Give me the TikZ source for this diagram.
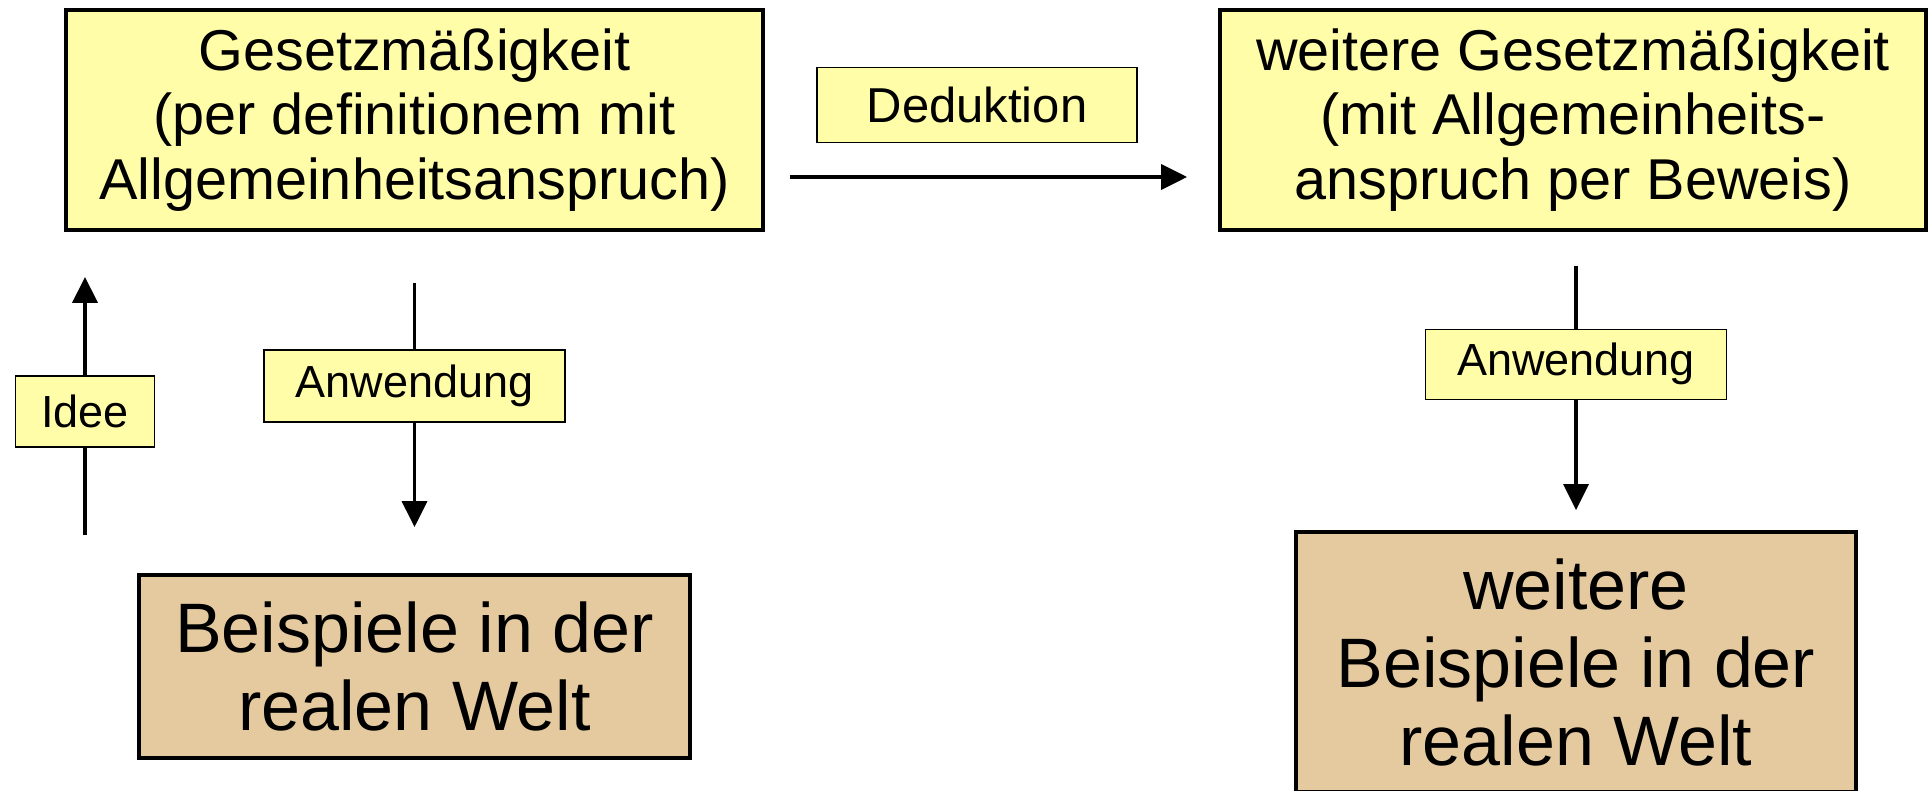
\documentclass[tikz,border=0pt]{standalone}
\usepackage{fontspec}
\setmainfont{Liberation Sans}
\usepackage{tikz}
\usetikzlibrary{arrows.meta}
\definecolor{gelb}{HTML}{FFFDA8}
\definecolor{braun}{HTML}{E5CA9F}
\tikzstyle{arrow} = [-{Triangle[length=13pt,width=12.5pt]}, line width=1.7pt]
\tikzstyle{gesetz} = [draw, line width=1.9pt, fill=gelb, align=center, minimum height=110pt, font=\fontsize{28.8}{32.3}\selectfont]
\tikzstyle{welt} = [draw, line width=1.9pt, fill=braun, align=center, font=\fontsize{35}{39}\selectfont]
\tikzstyle{lbl} = [draw, line width=0.75pt, fill=gelb, minimum height=36pt, font=\fontsize{22.5}{25}\selectfont]

\begin{document}
\begin{tikzpicture}[x=0.5pt, y=-0.5pt]
        \useasboundingbox (0,0) rectangle (1930,791);
        \node[gesetz, minimum width=348.5pt] at (414.5,120) (g1) {Gesetzmäßigkeit\\(per definitionem mit\\Allgemeinheitsanspruch)};
        \node[gesetz, minimum width=353pt] at (1573,120) (g2) {weitere Gesetzmäßigkeit\\(mit Allgemeinheits-\\anspruch per Beweis)};
        \node[welt, minimum width=275.5pt, minimum height=91.5pt] at (414.5,666.5) (b1) {Beispiele in der\\realen Welt};
        \node[welt, minimum width=280pt, minimum height=130pt] at (1576,662) (b2) {weitere\\Beispiele in der\\realen Welt};

        % Deduktion
        \coordinate (ded) at (0,177);
        \draw[arrow, shorten <=12.5pt, shorten >=15.5pt] (g1.east |- ded) -- (g2.west |- ded);
        \node[lbl, minimum width=160pt, minimum height=37.5pt, font=\fontsize{24.5}{27}\selectfont] at (977,105) (ded-l) {Deduktion};

        % Idee
        \coordinate (idee) at (85,535);
        \draw[arrow, shorten >=22.5pt] (idee) -- (g1.south -| idee) node[lbl, pos=0.407, minimum width=69.5pt, minimum height=35.5pt] (idee-l) {Idee};

        % Anwendung
        \draw[arrow, shorten <=25.5pt, shorten >=23pt] (g1) -- (b1) node[lbl, pos=0.452, minimum width=150.5pt] (anw1) {Anwendung};
        \draw[arrow, shorten <=17pt, shorten >=10pt] (g2.south -| b2.north) -- (b2.north) node[lbl, pos=0.444, minimum width=150.5pt, minimum height=35pt] (anw2) {Anwendung};

    \end{tikzpicture}
\end{document}
